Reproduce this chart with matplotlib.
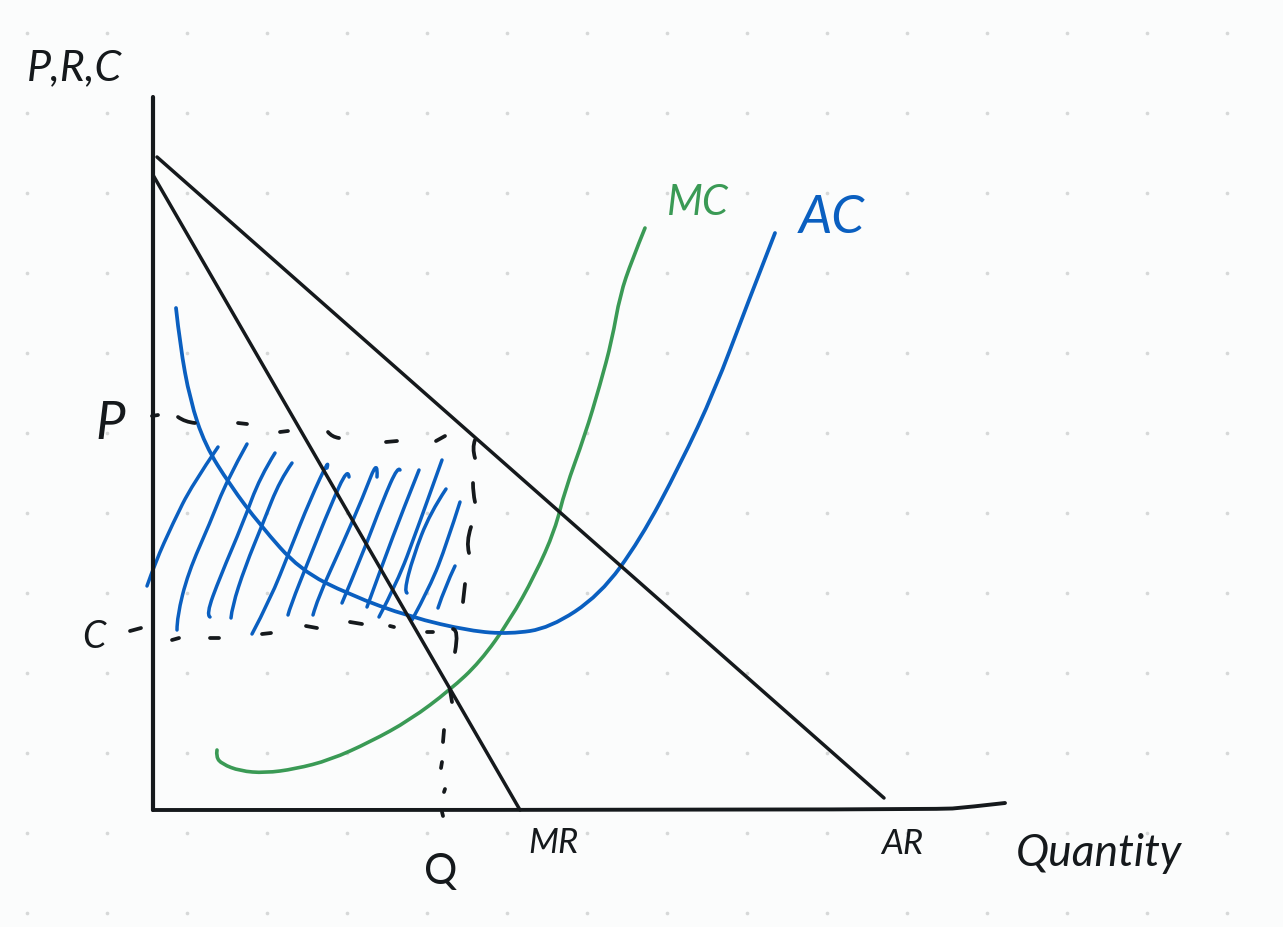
import matplotlib
matplotlib.use('Agg')
import numpy as np
import matplotlib.pyplot as plt
from matplotlib.patches import PathPatch
from matplotlib.path import Path

y_axis_x = [153, 153]
y_axis_y = [97, 810]
x_axis_x = [153, 935, 970, 1005]
x_axis_y = [810, 810, 807, 803]

ar_x = [157, 884]
ar_y = [157, 798]
mr_x = [153, 520]
mr_y = [175, 810]

mc_x = [217, 216, 222, 240, 265, 295, 330, 370, 410, 450, 480, 510, 535, 555, 565, 585, 600, 612, 620, 632, 645]
mc_y = [750, 757, 764, 771, 773, 769, 760, 742, 720, 690, 662, 620, 575, 530, 490, 435, 385, 340, 295, 260, 228]

ac_x = [176, 180, 190, 205, 230, 260, 300, 350, 410, 470, 510, 550, 600, 640, 680, 715, 745, 775]
ac_y = [308, 345, 400, 445, 485, 525, 570, 595, 617, 631, 634, 628, 595, 540, 465, 390, 310, 233]

# shading strokes
hatch_strokes = [
    ([147, 155, 173, 192, 218], [586, 563, 523, 485, 447]),
    ([177, 177, 188, 210, 227, 247], [630, 617, 573, 523, 480, 444]),
    ([210, 206, 220, 243, 260, 275], [617, 615, 577, 523, 477, 453]),
    ([231, 232, 245, 263, 280, 292], [618, 607, 567, 523, 480, 463]),
    ([252, 270, 290, 310, 330, 327], [634, 600, 550, 500, 457, 468]),
    ([288, 290, 310, 330, 348, 349], [615, 607, 557, 507, 467, 477]),
    ([313, 317, 343, 363, 378, 377], [615, 600, 543, 497, 458, 477]),
    ([342, 363, 383, 398, 400], [603, 553, 500, 466, 470]),
    ([367, 383, 403, 419], [607, 563, 510, 470]),
    ([379, 397, 417, 442], [617, 583, 530, 460]),
    ([407, 404, 413, 430, 446], [593, 592, 557, 513, 489]),
    ([412, 430, 447, 460], [620, 587, 543, 502]),
    ([438, 445, 455], [608, 587, 566]),
]

# dashes of the price, cost and quantity guides
dash_strokes = [
    ([152, 158], [416, 415]),
    ([178, 185, 195], [417, 422, 423]),
    ([238, 247], [423, 424]),
    ([280, 288], [432, 431]),
    ([328, 332, 339], [432, 437, 438]),
    ([386, 397], [442, 441]),
    ([436, 445], [441, 436]),
    ([475, 472, 475], [440, 448, 458]),
    ([473, 473, 475], [483, 493, 502]),
    ([471, 466, 469], [527, 542, 553]),
    ([465, 463], [584, 602]),
    ([453, 459, 455], [629, 630, 652]),
    ([130, 141], [631, 628]),
    ([172, 179], [640, 638]),
    ([210, 219], [638, 638]),
    ([262, 271], [634, 633]),
    ([306, 317], [626, 628]),
    ([350, 362], [622, 624]),
    ([390, 394], [626, 627]),
    ([427, 433], [632, 632]),
    ([450, 452], [690, 702]),
    ([444, 443], [730, 742]),
    ([442, 441], [762, 768]),
    ([445, 444], [789, 792]),
    ([442, 443], [812, 816]),
]

dot_x = np.arange(27, 1283, 80)
dot_y = np.arange(33, 927, 80)

black = '#15191c'
green = '#3a9a55'
blue = '#0a5fc0'
paper = '#fbfcfc'


# draw a stroke as a pen would, rounding the corners between the read points
def pen_stroke(ax, xs, ys, color, lw, zorder):
    pts = np.column_stack([xs, ys]).astype(float)
    verts = [pts[0]]
    codes = [Path.MOVETO]
    for i in range(1, len(pts) - 1):
        end = pts[i + 1] if i == len(pts) - 2 else (pts[i] + pts[i + 1]) / 2
        verts += [pts[i], end]
        codes += [Path.CURVE3, Path.CURVE3]
    if len(pts) == 2:
        verts.append(pts[1])
        codes.append(Path.LINETO)
    ax.add_patch(PathPatch(Path(verts, codes), fill=False, edgecolor=color, lw=lw,
                           capstyle='round', joinstyle='round', zorder=zorder))


fig = plt.figure(figsize=(12.83, 9.27), dpi=100, facecolor=paper)
ax = fig.add_axes([0, 0, 1, 1])
ax.set_xlim(0, 1283)
ax.set_ylim(927, 0)
ax.axis('off')

# dotted paper
xx, yy = np.meshgrid(dot_x, dot_y)
ax.scatter(xx.ravel(), yy.ravel(), s=7, color='#d6d8d8', linewidths=0, zorder=1)

for sx, sy in hatch_strokes:
    pen_stroke(ax, sx, sy, blue, 2.5, 3)

pen_stroke(ax, mc_x, mc_y, green, 2.6, 4)
pen_stroke(ax, ac_x, ac_y, blue, 2.7, 4)

pen_stroke(ax, y_axis_x, y_axis_y, black, 3.0, 5)
pen_stroke(ax, x_axis_x, x_axis_y, black, 2.8, 5)
pen_stroke(ax, ar_x, ar_y, black, 2.5, 5)
pen_stroke(ax, mr_x, mr_y, black, 2.5, 5)

for sx, sy in dash_strokes:
    pen_stroke(ax, sx, sy, black, 2.7, 5)

# labels
ax.text(27, 68, 'P,R,C', color=black, fontsize=31, family='Lato', style='italic', va='center')
ax.text(95, 424, 'P', color=black, fontsize=38, family='Lato', style='italic', va='center')
ax.text(82, 637, 'C', color=black, fontsize=27, family='Lato', style='italic', va='center')
ax.text(441, 872, 'Q', color=black, fontsize=30, family='Lato', ha='center', va='center')
ax.text(553, 843, 'MR', color=black, fontsize=25, family='Lato', style='italic', ha='center', va='center')
ax.text(902, 844, 'AR', color=black, fontsize=25, family='Lato', style='italic', ha='center', va='center')
ax.text(1016, 853, 'Quantity', color=black, fontsize=32, family='Lato', style='italic', va='center')
ax.text(698, 203, 'MC', color=green, fontsize=30, family='Lato', style='italic', ha='center', va='center')
ax.text(832, 218, 'AC', color=blue, fontsize=38, family='Lato', style='italic', ha='center', va='center')

fig.savefig('out.png', dpi=100, facecolor=paper)
